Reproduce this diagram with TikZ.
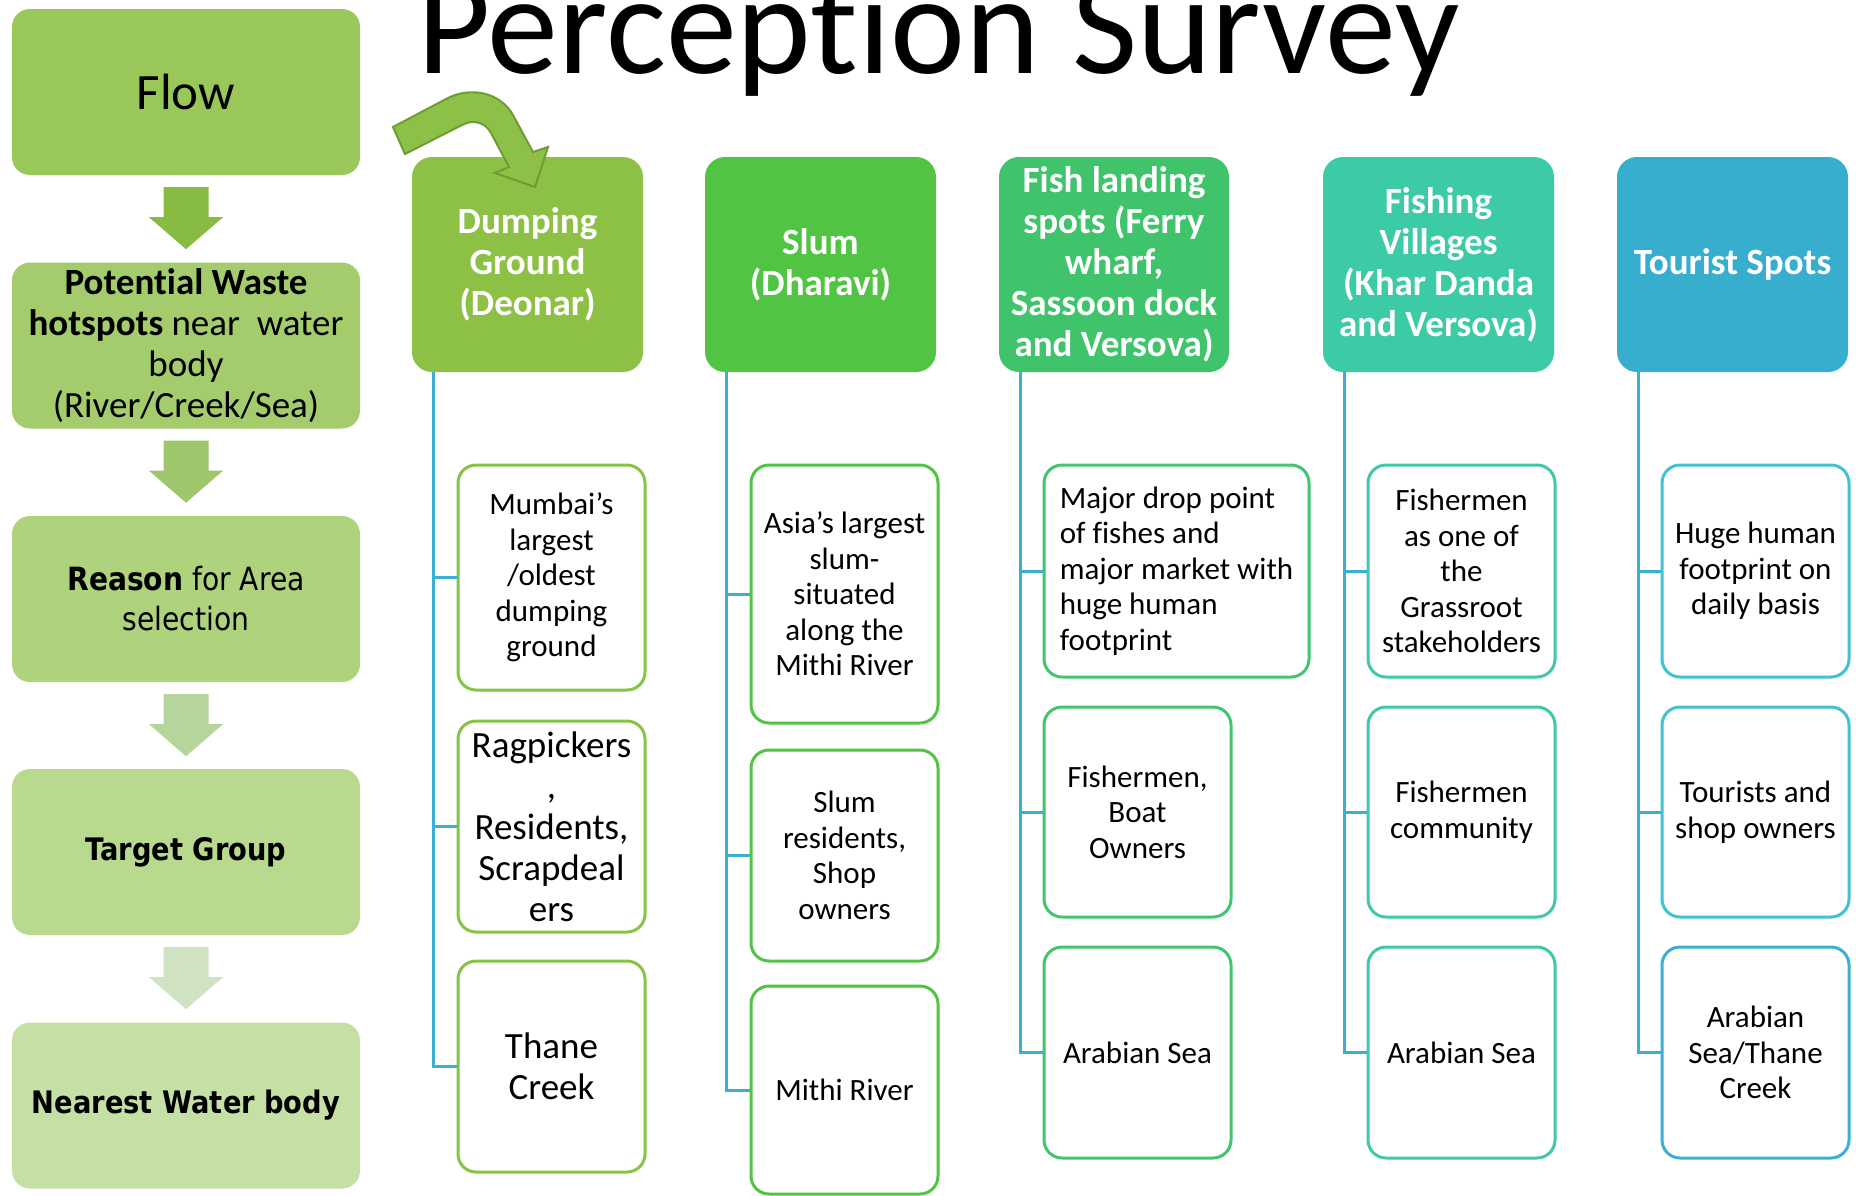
\documentclass[tikz,border=0pt]{standalone}
\usepackage{fontspec}
\setmainfont[Ligatures=NoCommon]{Carlito}
\newfontfamily\tah[FakeStretch=0.88]{DejaVu Sans}
\usetikzlibrary{calc}
\definecolor{lb1}{HTML}{9AC75A}
\definecolor{lb2}{HTML}{A4CC6C}
\definecolor{lb3}{HTML}{AED37C}
\definecolor{lb4}{HTML}{B9D98F}
\definecolor{lb5}{HTML}{C5E0A4}
\definecolor{ar1}{HTML}{88BB41}
\definecolor{ar2}{HTML}{9EC76B}
\definecolor{ar3}{HTML}{B5D59A}
\definecolor{ar4}{HTML}{CFE3C3}
\definecolor{hc1}{HTML}{8CC146}
\definecolor{hc2}{HTML}{52C443}
\definecolor{hc3}{HTML}{40C46B}
\definecolor{hc4}{HTML}{3CCBA6}
\definecolor{hc5}{HTML}{37AECE}
\definecolor{bc1}{HTML}{84C546}
\definecolor{bc2}{HTML}{52C443}
\definecolor{bc3}{HTML}{42C56E}
\definecolor{bc4}{HTML}{3FC9A8}
\definecolor{bc5}{HTML}{40C3D0}
\definecolor{bc6}{HTML}{3BB0D3}
\definecolor{connblue}{HTML}{3AAED3}
\definecolor{curvefill}{HTML}{8CC046}
\definecolor{curvedraw}{HTML}{6F9C33}
\newcommand\blockarrow[2]{%
  \fill[#2] ($(#1.south)+(-22.5pt,-12pt)$) -- ++(45pt,0pt) -- ++(0pt,-30pt) -- ++(14.5pt,0pt)
    -- ($(#1.south)+(0pt,-74pt)$) -- ($(#1.south)+(-37pt,-42pt)$) -- ++(14.5pt,0pt) -- cycle;}
\begin{document}
\begin{tikzpicture}[x=1pt,y=-1pt,
  leftbox/.style={rounded corners=18pt, minimum width=348pt, minimum height=166pt, inner sep=1pt, align=center, text=black},
  headbox/.style={rounded corners=20pt, minimum width=231pt, minimum height=215pt, inner sep=3pt, align=center, text=white, font=\fontsize{37pt}{41pt}\selectfont\bfseries},
  childbox/.style={draw, fill=white, line width=3pt, rounded corners=18pt, minimum width=187pt, inner sep=2pt, align=center, font=\fontsize{31pt}{35.5pt}\selectfont},
  bigtxt/.style={font=\fontsize{37pt}{41pt}\selectfont},
  conn/.style={draw=connblue, line width=3pt}]
\useasboundingbox (0,0) rectangle (1856,1195);
\fill[white] (0,0) rectangle (1856,1195);

% title
\node[anchor=base west, inner sep=0pt, font=\fontsize{142pt}{142pt}\selectfont] (title) at (417,73) {Perception Survey};

% left flow column
\node[leftbox, fill=lb1, font=\fontsize{51pt}{56pt}\selectfont] (flow) at (186,92) {Flow};
\node[leftbox, fill=lb2, font=\fontsize{37pt}{41pt}\selectfont] (pot) at (186,345.5) {\textbf{Potential Waste}\\\textbf{hotspots} near~~water\\body\\(River/Creek/Sea)};
\node[leftbox, fill=lb3, font=\tah\fontsize{32pt}{40pt}\selectfont] (reason) at (186,599) {\textbf{Reason} for Area\\selection};
\node[leftbox, fill=lb4, font=\tah\fontsize{31pt}{40pt}\selectfont\bfseries] (target) at (186,852) {Target Group};
\node[leftbox, fill=lb5, font=\tah\fontsize{31pt}{40pt}\selectfont\bfseries] (near) at (186,1105.5) {Nearest Water body};
\blockarrow{flow}{ar1}
\blockarrow{pot}{ar2}
\blockarrow{reason}{ar3}
\blockarrow{target}{ar4}

% headers
\node[headbox, fill=hc1] (h1) at (527.5,264.5) {Dumping\\Ground\\(Deonar)};
\node[headbox, fill=hc2] (h2) at (820.5,264.5) {Slum\\(Dharavi)};
\node[headbox, fill=hc3, minimum width=230pt] (h3) at (1114,264.5) {Fish landing\\spots (Ferry\\wharf,\\Sassoon dock\\and Versova)};
\node[headbox, fill=hc4] (h4) at (1438.5,264.5) {Fishing\\Villages\\(Khar Danda\\and Versova)};
\node[headbox, fill=hc5] (h5) at (1732.5,264.5) {Tourist Spots};

% curved arrow into Dumping Ground
\draw[fill=curvefill, draw=curvedraw, line width=2pt, line join=miter]
  (393,127) -- (446,99) .. controls (470,86) and (500,92) .. (513,115) -- (533,152)
  -- (548,147) -- (535,187) -- (495,173) -- (509,167) -- (491,133)
  .. controls (485,122) and (473,119) .. (462,125) -- (405,154) -- cycle;

% column 1
\node[childbox, draw=bc1, minimum height=225pt] (c11) at (551.5,577.5) {Mumbai’s\\largest\\/oldest\\dumping\\ground};
\node[childbox, draw=bc1, minimum height=211pt, bigtxt] (c12) at (551.5,826.5) {Ragpickers\\,\\Residents,\\Scrapdeal\\ers};
\node[childbox, draw=bc1, minimum height=211pt, bigtxt] (c13) at (551.5,1066.5) {Thane\\Creek};
% column 2
\node[childbox, draw=bc2, minimum height=258pt] (c21) at (844.5,594) {Asia’s largest\\slum-\\situated\\along the\\Mithi River};
\node[childbox, draw=bc2, minimum height=211pt] (c22) at (844.5,855.5) {Slum\\residents,\\Shop\\owners};
\node[childbox, draw=bc2, minimum height=208pt] (c23) at (844.5,1090) {Mithi River};
% column 3
\node[childbox, draw=bc3, minimum width=265pt, minimum height=212pt, align=left] (c31) at (1176.5,571) {Major drop point\\of fishes and\\major market with\\huge human\\footprint};
\node[childbox, draw=bc3, minimum height=210pt] (c32) at (1137.5,812) {Fishermen,\\Boat\\Owners};
\node[childbox, draw=bc3, minimum height=211pt] (c33) at (1137.5,1052.5) {Arabian Sea};
% column 4
\node[childbox, draw=bc4, minimum height=212pt] (c41) at (1461.5,571) {Fishermen\\as one of\\the\\Grassroot\\stakeholders};
\node[childbox, draw=bc4, minimum height=210pt] (c42) at (1461.5,812) {Fishermen\\community};
\node[childbox, draw=bc4, minimum height=211pt] (c43) at (1461.5,1052.5) {Arabian Sea};
% column 5
\node[childbox, draw=bc5, minimum height=212pt] (c51) at (1755.5,571) {Huge human\\footprint on\\daily basis};
\node[childbox, draw=bc5, minimum height=210pt] (c52) at (1755.5,812) {Tourists and\\shop owners};
\node[childbox, draw=bc6, minimum height=211pt] (c53) at (1755.5,1052.5) {Arabian\\Sea/Thane\\Creek};

% connectors
\foreach \h/\a/\b/\c in {h1/c11/c12/c13, h2/c21/c22/c23, h3/c31/c32/c33, h4/c41/c42/c43, h5/c51/c52/c53}{
  \draw[conn] ([xshift=22pt]\h.south west) |- (\c.west);
  \draw[conn] ([xshift=22pt]\h.south west) |- (\b.west);
  \draw[conn] ([xshift=22pt]\h.south west) |- (\a.west);
}
\end{tikzpicture}
\end{document}
